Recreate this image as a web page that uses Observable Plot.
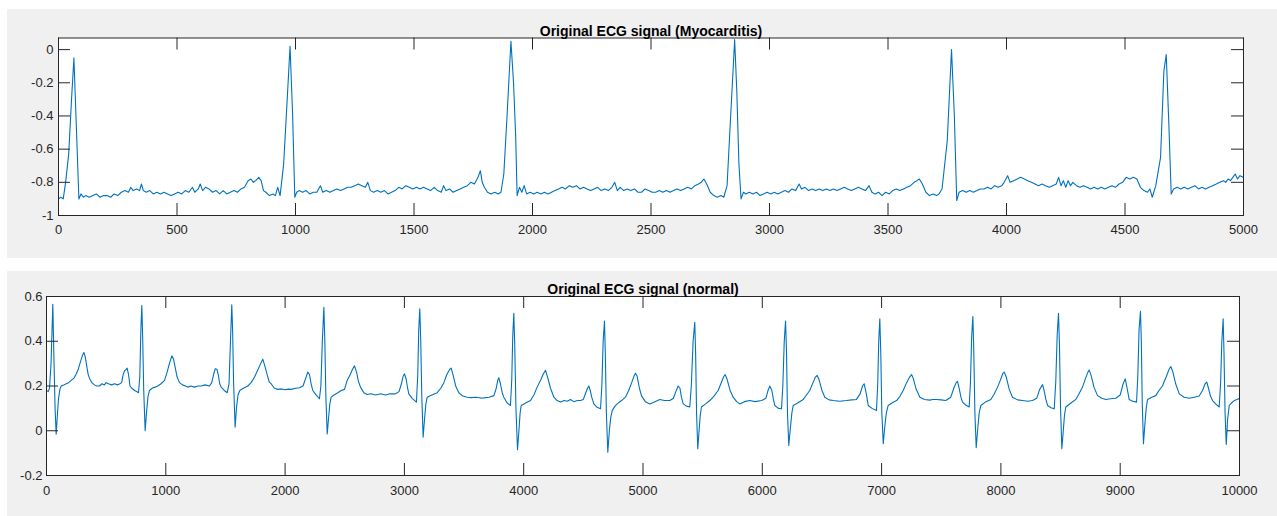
<!DOCTYPE html>
<html><head><meta charset="utf-8">
<script src="https://cdn.jsdelivr.net/npm/d3@7"></script>
<script src="https://cdn.jsdelivr.net/npm/@observablehq/plot@0.6"></script>
<style>
body{margin:0;background:#fff;width:1277px;height:516px;overflow:hidden;position:relative;font-family:"Liberation Sans",Arial,sans-serif}
.panel{position:absolute;left:7px;background:#f0f0f0;line-height:0}
</style></head><body>
<div id="p1" class="panel" style="top:9px"></div>
<div id="p2" class="panel" style="top:271px"></div>
<script>
const titleTop = "Original ECG signal (Myocarditis)";
const titleBottom = "Original ECG signal (normal)";
const xTicksTop = [0,500,1000,1500,2000,2500,3000,3500,4000,4500,5000];
const yTicksTop = [-1,-0.8,-0.6,-0.4,-0.2,0];
const xTicksBottom = [0,1000,2000,3000,4000,5000,6000,7000,8000,9000,10000];
const yTicksBottom = [-0.2,0,0.2,0.4,0.6];

// [sample, amplitude]
const myocarditis = [[0,-0.90],[10,-0.89],[20,-0.90],[30,-0.80],[43,-0.63],[55,-0.30],[65,-0.05],[75,-0.45],[86,-0.90],[95,-0.87],[105,-0.89],[115,-0.88],[130,-0.89],[145,-0.88],[160,-0.87],[175,-0.89],[190,-0.88],[205,-0.88],[220,-0.89],[235,-0.87],[250,-0.88],[265,-0.86],[280,-0.85],[295,-0.86],[305,-0.83],[315,-0.85],[330,-0.84],[342,-0.85],[350,-0.81],[358,-0.85],[370,-0.86],[385,-0.85],[400,-0.87],[415,-0.86],[430,-0.87],[445,-0.86],[460,-0.87],[475,-0.88],[490,-0.87],[505,-0.86],[520,-0.87],[535,-0.85],[550,-0.86],[565,-0.83],[575,-0.86],[590,-0.84],[598,-0.81],[608,-0.85],[620,-0.83],[635,-0.84],[650,-0.86],[665,-0.85],[680,-0.87],[695,-0.85],[710,-0.87],[725,-0.86],[740,-0.85],[755,-0.86],[770,-0.84],[785,-0.83],[800,-0.79],[812,-0.78],[822,-0.80],[832,-0.79],[845,-0.77],[855,-0.79],[865,-0.85],[875,-0.86],[890,-0.88],[905,-0.87],[915,-0.88],[925,-0.83],[935,-0.88],[950,-0.69],[965,-0.30],[977,0.02],[988,-0.40],[997,-0.89],[1005,-0.86],[1015,-0.85],[1030,-0.86],[1045,-0.85],[1060,-0.87],[1075,-0.86],[1090,-0.86],[1105,-0.82],[1115,-0.86],[1130,-0.85],[1145,-0.86],[1160,-0.85],[1175,-0.84],[1190,-0.85],[1205,-0.84],[1220,-0.83],[1235,-0.83],[1250,-0.82],[1265,-0.81],[1280,-0.82],[1295,-0.83],[1305,-0.80],[1316,-0.85],[1330,-0.86],[1345,-0.85],[1360,-0.86],[1375,-0.85],[1390,-0.87],[1405,-0.86],[1420,-0.85],[1436,-0.83],[1450,-0.84],[1465,-0.82],[1480,-0.83],[1495,-0.84],[1510,-0.83],[1525,-0.84],[1540,-0.83],[1555,-0.84],[1570,-0.85],[1585,-0.83],[1600,-0.85],[1615,-0.86],[1625,-0.82],[1635,-0.85],[1650,-0.84],[1665,-0.86],[1680,-0.85],[1695,-0.84],[1710,-0.83],[1725,-0.82],[1740,-0.80],[1755,-0.81],[1770,-0.77],[1780,-0.73],[1788,-0.80],[1797,-0.83],[1810,-0.86],[1825,-0.87],[1840,-0.86],[1855,-0.87],[1867,-0.86],[1879,-0.75],[1893,-0.39],[1909,0.05],[1920,-0.20],[1929,-0.52],[1935,-0.88],[1945,-0.83],[1955,-0.86],[1965,-0.82],[1975,-0.87],[1990,-0.86],[2005,-0.87],[2020,-0.86],[2035,-0.87],[2050,-0.86],[2065,-0.87],[2080,-0.86],[2095,-0.85],[2110,-0.84],[2125,-0.83],[2140,-0.84],[2155,-0.82],[2170,-0.83],[2185,-0.82],[2200,-0.84],[2215,-0.83],[2230,-0.84],[2245,-0.85],[2260,-0.84],[2275,-0.83],[2290,-0.85],[2305,-0.84],[2320,-0.85],[2335,-0.83],[2347,-0.80],[2358,-0.85],[2370,-0.83],[2385,-0.85],[2400,-0.84],[2415,-0.85],[2430,-0.84],[2445,-0.86],[2460,-0.86],[2475,-0.84],[2490,-0.85],[2505,-0.86],[2520,-0.86],[2535,-0.85],[2550,-0.86],[2565,-0.85],[2580,-0.86],[2595,-0.85],[2610,-0.84],[2625,-0.85],[2640,-0.84],[2655,-0.83],[2670,-0.84],[2685,-0.82],[2700,-0.81],[2712,-0.80],[2723,-0.78],[2735,-0.81],[2750,-0.86],[2765,-0.88],[2780,-0.89],[2795,-0.88],[2807,-0.89],[2821,-0.82],[2835,-0.43],[2853,0.06],[2862,-0.25],[2871,-0.69],[2880,-0.90],[2890,-0.86],[2900,-0.87],[2915,-0.86],[2930,-0.87],[2945,-0.86],[2960,-0.88],[2975,-0.87],[2990,-0.86],[3005,-0.87],[3020,-0.86],[3035,-0.87],[3050,-0.86],[3065,-0.85],[3080,-0.86],[3095,-0.84],[3110,-0.85],[3125,-0.81],[3135,-0.84],[3150,-0.83],[3165,-0.85],[3180,-0.84],[3195,-0.85],[3210,-0.84],[3225,-0.85],[3240,-0.84],[3255,-0.85],[3270,-0.84],[3285,-0.85],[3300,-0.84],[3315,-0.83],[3330,-0.84],[3345,-0.85],[3360,-0.84],[3375,-0.83],[3390,-0.84],[3405,-0.85],[3420,-0.82],[3432,-0.86],[3445,-0.87],[3460,-0.86],[3475,-0.88],[3490,-0.86],[3505,-0.87],[3520,-0.85],[3535,-0.84],[3550,-0.85],[3565,-0.84],[3580,-0.83],[3595,-0.82],[3610,-0.80],[3622,-0.79],[3632,-0.78],[3645,-0.81],[3660,-0.86],[3675,-0.88],[3690,-0.87],[3705,-0.88],[3715,-0.87],[3728,-0.84],[3750,-0.55],[3768,0.00],[3780,-0.40],[3790,-0.91],[3800,-0.86],[3815,-0.85],[3830,-0.86],[3845,-0.85],[3860,-0.86],[3875,-0.85],[3890,-0.84],[3905,-0.84],[3920,-0.83],[3935,-0.84],[3950,-0.82],[3965,-0.83],[3980,-0.82],[3990,-0.80],[4005,-0.76],[4015,-0.80],[4030,-0.79],[4045,-0.78],[4060,-0.77],[4075,-0.78],[4090,-0.79],[4105,-0.80],[4120,-0.81],[4135,-0.82],[4150,-0.81],[4165,-0.82],[4180,-0.83],[4195,-0.82],[4210,-0.81],[4220,-0.77],[4230,-0.82],[4240,-0.79],[4250,-0.83],[4260,-0.79],[4270,-0.82],[4280,-0.80],[4295,-0.82],[4310,-0.83],[4325,-0.82],[4340,-0.83],[4355,-0.84],[4370,-0.83],[4385,-0.84],[4400,-0.83],[4415,-0.84],[4430,-0.83],[4445,-0.82],[4460,-0.83],[4475,-0.81],[4490,-0.80],[4505,-0.77],[4520,-0.78],[4535,-0.77],[4550,-0.78],[4565,-0.83],[4580,-0.85],[4595,-0.86],[4605,-0.84],[4615,-0.89],[4630,-0.82],[4650,-0.65],[4664,-0.13],[4674,-0.03],[4685,-0.45],[4695,-0.87],[4705,-0.84],[4720,-0.83],[4735,-0.84],[4750,-0.83],[4765,-0.84],[4780,-0.83],[4795,-0.82],[4810,-0.84],[4825,-0.83],[4840,-0.84],[4855,-0.83],[4870,-0.82],[4885,-0.81],[4900,-0.80],[4915,-0.79],[4925,-0.80],[4935,-0.78],[4945,-0.79],[4955,-0.77],[4965,-0.75],[4975,-0.78],[4985,-0.76],[5000,-0.77]];

const normal = [[0,0.18],[15,0.175],[25,0.19],[38,0.30],[53,0.565],[62,0.33],[72,0.10],[81,-0.015],[90,0.06],[100,0.14],[112,0.185],[123,0.20],[145,0.205],[165,0.21],[185,0.215],[207,0.225],[230,0.235],[250,0.255],[263,0.27],[280,0.30],[300,0.335],[313,0.35],[325,0.33],[340,0.28],[350,0.25],[360,0.235],[380,0.215],[402,0.205],[420,0.20],[444,0.20],[465,0.21],[485,0.205],[500,0.215],[520,0.21],[545,0.205],[570,0.21],[595,0.205],[615,0.21],[630,0.215],[642,0.25],[654,0.268],[664,0.272],[676,0.28],[688,0.25],[700,0.20],[715,0.19],[738,0.18],[755,0.175],[771,0.17],[782,0.24],[791,0.45],[799,0.56],[806,0.42],[815,0.18],[827,0.00],[838,0.08],[850,0.15],[863,0.18],[885,0.19],[910,0.195],[933,0.20],[960,0.21],[989,0.225],[1010,0.26],[1030,0.30],[1051,0.335],[1065,0.32],[1080,0.28],[1095,0.24],[1115,0.215],[1140,0.205],[1165,0.20],[1185,0.195],[1210,0.20],[1240,0.195],[1270,0.20],[1297,0.20],[1330,0.205],[1366,0.20],[1385,0.215],[1400,0.25],[1414,0.277],[1428,0.275],[1440,0.25],[1452,0.21],[1464,0.195],[1490,0.18],[1515,0.17],[1530,0.21],[1542,0.40],[1553,0.563],[1560,0.45],[1568,0.22],[1581,0.016],[1592,0.10],[1605,0.16],[1620,0.18],[1650,0.19],[1688,0.20],[1715,0.215],[1744,0.24],[1770,0.27],[1795,0.30],[1813,0.32],[1830,0.29],[1850,0.25],[1866,0.22],[1883,0.21],[1910,0.19],[1939,0.185],[1970,0.187],[2000,0.183],[2030,0.186],[2050,0.185],[2090,0.19],[2120,0.192],[2150,0.20],[2170,0.23],[2190,0.262],[2205,0.25],[2218,0.21],[2232,0.18],[2260,0.16],[2288,0.143],[2300,0.20],[2312,0.40],[2325,0.552],[2333,0.40],[2342,0.15],[2353,-0.014],[2365,0.06],[2375,0.12],[2386,0.15],[2410,0.16],[2442,0.17],[2470,0.18],[2498,0.185],[2520,0.225],[2545,0.25],[2565,0.275],[2582,0.29],[2600,0.26],[2615,0.22],[2632,0.195],[2660,0.17],[2688,0.162],[2720,0.165],[2760,0.16],[2800,0.165],[2840,0.16],[2880,0.165],[2925,0.165],[2955,0.175],[2975,0.21],[2990,0.245],[3001,0.254],[3015,0.23],[3027,0.19],[3037,0.165],[3065,0.145],[3101,0.128],[3112,0.25],[3120,0.45],[3129,0.545],[3137,0.40],[3146,0.15],[3157,-0.029],[3170,0.06],[3180,0.12],[3191,0.15],[3230,0.16],[3275,0.17],[3305,0.19],[3331,0.215],[3355,0.25],[3380,0.275],[3392,0.28],[3410,0.245],[3430,0.20],[3456,0.17],[3490,0.155],[3526,0.15],[3560,0.148],[3600,0.15],[3640,0.146],[3666,0.147],[3710,0.15],[3750,0.157],[3770,0.19],[3782,0.225],[3791,0.237],[3805,0.21],[3820,0.17],[3833,0.15],[3860,0.125],[3889,0.113],[3900,0.23],[3908,0.42],[3917,0.525],[3925,0.38],[3935,0.10],[3948,-0.085],[3960,0.00],[3970,0.08],[3979,0.113],[4020,0.125],[4057,0.135],[4085,0.16],[4113,0.195],[4145,0.23],[4165,0.255],[4183,0.27],[4200,0.24],[4225,0.19],[4253,0.15],[4280,0.135],[4309,0.128],[4340,0.135],[4365,0.132],[4392,0.14],[4420,0.13],[4450,0.135],[4476,0.135],[4500,0.14],[4520,0.17],[4535,0.19],[4546,0.20],[4558,0.18],[4570,0.15],[4588,0.12],[4615,0.105],[4644,0.098],[4655,0.20],[4666,0.40],[4677,0.49],[4684,0.35],[4693,0.08],[4705,-0.096],[4718,0.00],[4730,0.06],[4742,0.09],[4765,0.11],[4784,0.12],[4820,0.135],[4853,0.15],[4880,0.18],[4905,0.215],[4925,0.245],[4937,0.257],[4950,0.245],[4970,0.19],[4987,0.157],[5020,0.13],[5057,0.12],[5100,0.13],[5141,0.14],[5180,0.135],[5225,0.135],[5255,0.145],[5275,0.175],[5295,0.20],[5310,0.19],[5322,0.15],[5337,0.12],[5365,0.11],[5392,0.106],[5405,0.20],[5420,0.40],[5434,0.485],[5441,0.35],[5449,0.08],[5459,-0.08],[5470,0.00],[5480,0.07],[5490,0.106],[5525,0.12],[5560,0.135],[5595,0.155],[5630,0.18],[5660,0.22],[5675,0.24],[5689,0.251],[5705,0.23],[5730,0.18],[5756,0.15],[5785,0.13],[5811,0.12],[5850,0.13],[5895,0.135],[5940,0.13],[5993,0.135],[6030,0.145],[6048,0.18],[6063,0.20],[6080,0.18],[6093,0.14],[6105,0.113],[6135,0.10],[6161,0.098],[6172,0.20],[6184,0.40],[6195,0.49],[6203,0.35],[6211,0.08],[6222,-0.066],[6235,0.01],[6248,0.08],[6259,0.113],[6300,0.125],[6343,0.14],[6370,0.16],[6398,0.18],[6425,0.215],[6445,0.24],[6460,0.247],[6475,0.23],[6500,0.18],[6524,0.15],[6560,0.138],[6594,0.135],[6650,0.132],[6705,0.135],[6750,0.138],[6789,0.14],[6820,0.165],[6840,0.20],[6854,0.21],[6870,0.17],[6888,0.113],[6920,0.10],[6957,0.09],[6967,0.20],[6976,0.40],[6985,0.50],[6993,0.35],[7002,0.08],[7014,-0.058],[7027,0.02],[7040,0.08],[7055,0.113],[7090,0.125],[7126,0.135],[7155,0.155],[7181,0.18],[7210,0.215],[7235,0.24],[7251,0.251],[7265,0.235],[7290,0.185],[7321,0.15],[7360,0.14],[7404,0.137],[7427,0.14],[7460,0.14],[7500,0.138],[7538,0.135],[7580,0.15],[7605,0.19],[7625,0.215],[7636,0.221],[7650,0.19],[7665,0.15],[7678,0.128],[7705,0.115],[7734,0.106],[7745,0.22],[7755,0.42],[7765,0.51],[7773,0.35],[7782,0.08],[7793,-0.076],[7806,0.01],[7818,0.08],[7832,0.113],[7875,0.13],[7916,0.14],[7945,0.165],[7972,0.195],[7995,0.225],[8015,0.255],[8028,0.262],[8045,0.24],[8070,0.185],[8097,0.15],[8140,0.138],[8181,0.135],[8225,0.132],[8265,0.135],[8300,0.145],[8325,0.185],[8349,0.206],[8362,0.18],[8377,0.14],[8391,0.113],[8420,0.103],[8447,0.098],[8460,0.22],[8472,0.43],[8483,0.525],[8491,0.38],[8500,0.10],[8511,-0.08],[8523,0.00],[8533,0.07],[8544,0.106],[8590,0.125],[8628,0.14],[8655,0.165],[8684,0.195],[8710,0.235],[8728,0.26],[8740,0.272],[8755,0.25],[8780,0.195],[8810,0.157],[8845,0.145],[8880,0.14],[8920,0.143],[8963,0.145],[9000,0.16],[9025,0.21],[9042,0.232],[9058,0.19],[9075,0.14],[9105,0.132],[9137,0.128],[9148,0.25],[9158,0.45],[9170,0.534],[9177,0.40],[9185,0.12],[9195,-0.058],[9207,0.03],[9218,0.10],[9229,0.14],[9265,0.15],[9298,0.157],[9325,0.18],[9354,0.20],[9385,0.24],[9410,0.275],[9424,0.287],[9440,0.265],[9465,0.21],[9495,0.165],[9535,0.15],[9579,0.145],[9620,0.15],[9662,0.155],[9690,0.18],[9712,0.21],[9726,0.217],[9740,0.19],[9757,0.155],[9774,0.135],[9800,0.12],[9830,0.106],[9842,0.22],[9852,0.40],[9863,0.50],[9870,0.35],[9879,0.08],[9889,-0.061],[9900,0.05],[9914,0.113],[9935,0.125],[9956,0.135],[9980,0.14],[10000,0.145]];

const AX = "#262626";
function panel({data, xTicks, yTicks, xDomain, yDomain, title, height, m, padX, padY}) {
  const W = 1270;
  const fw = W - m.left - m.right;
  const fh = height - m.top - m.bottom;
  const fmt = d => String(d);
  return Plot.plot({
    width: W, height,
    marginLeft: m.left, marginRight: m.right, marginTop: m.top, marginBottom: m.bottom,
    style: {background: "#f0f0f0", fontFamily: "'Liberation Sans', Arial, sans-serif", fontSize: "13px", color: AX, overflow: "visible"},
    x: {domain: xDomain},
    y: {domain: yDomain},
    marks: [
      Plot.frame({fill: "white", stroke: null}),
      Plot.line(data, {x: d => d[0], y: d => d[1], stroke: "#0072BD", strokeWidth: 1.1, clip: true}),
      Plot.ruleX(xTicks, {stroke: AX, strokeWidth: 1, insetTop: fh - 12}),
      Plot.ruleX(xTicks, {stroke: AX, strokeWidth: 1, insetBottom: fh - 12}),
      Plot.ruleY(yTicks, {stroke: AX, strokeWidth: 1, insetRight: fw - 12}),
      Plot.ruleY(yTicks, {stroke: AX, strokeWidth: 1, insetLeft: fw - 12}),
      Plot.frame({stroke: AX, strokeWidth: 1}),
      Plot.axisX(xTicks, {tickSize: 0, tickPadding: padX, tickFormat: fmt, fill: AX, fontSize: 13, label: null}),
      Plot.axisY(yTicks, {tickSize: 0, tickPadding: padY, tickFormat: fmt, fill: AX, fontSize: 13, label: null}),
      Plot.text([title], {frameAnchor: "top", dy: -12, fontWeight: "bold", fontSize: 14, fill: "#000"})
    ]
  });
}

document.getElementById("p1").append(panel({
  data: myocarditis, xTicks: xTicksTop, yTicks: yTicksTop,
  xDomain: [0, 5000], yDomain: [-1, 0.07], title: titleTop, height: 249,
  m: {left: 51, right: 34, top: 28.5, bottom: 43}, padX: 9, padY: 5
}));
document.getElementById("p2").append(panel({
  data: normal, xTicks: xTicksBottom, yTicks: yTicksBottom,
  xDomain: [0, 10000], yDomain: [-0.2, 0.6], title: titleBottom, height: 245,
  m: {left: 39, right: 38, top: 25, bottom: 41}, padX: 10, padY: 4
}));
</script>
</body></html>
